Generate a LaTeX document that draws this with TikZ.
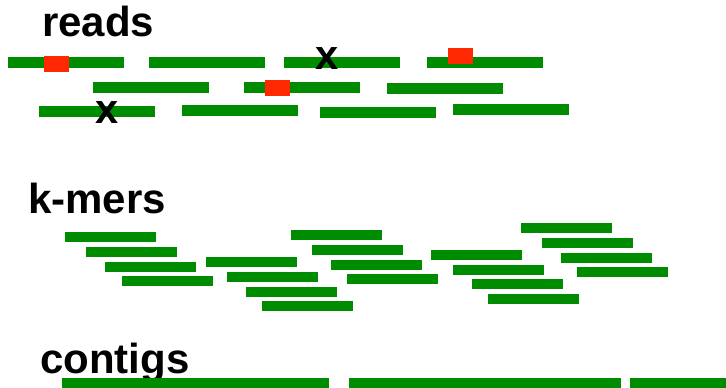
\documentclass[tikz,border=0pt]{standalone}
\usepackage{fontspec}
\setmainfont{Liberation Sans}
\definecolor{seqgreen}{RGB}{0,140,0}
\definecolor{errred}{RGB}{255,40,0}
\tikzset{
  seq/.style={fill=seqgreen},
  err/.style={fill=errred},
  heading/.style={font=\fontsize{42}{44}\selectfont\bfseries, anchor=base west, inner sep=0pt},
  mark x/.style={font=\fontsize{41.6}{44}\selectfont\bfseries, inner sep=0pt}
}
\begin{document}
\begin{tikzpicture}[x=1pt, y=-1pt]
\useasboundingbox (0,0) rectangle (726,388);
% reads
\node[heading] (reads) at (42,36) {reads};
\foreach \x/\y in {8/57,149/57,284/57,427/57, 93/82,244/82,387/83, 39/106,182/105,320/107,453/104} {
  \fill[seq] (\x,\y) rectangle ++(116,11);
}
\foreach \x/\y in {44/56,265/80,448/48} {
  \fill[err] (\x,\y) rectangle ++(25,16);
}
\node[mark x] (x1) at (327,58.5) {x};
\node[mark x] (x2) at (107.5,113) {x};
% k-mers
\node[heading] (kmers) at (28,213) {k-mers};
\foreach \x/\y in {65/232,86/247,105/262,122/276, 206/257,227/272,246/287,262/301,
                   291/230,312/245,331/260,347/274, 431/250,453/265,472/279,488/294,
                   521/223,542/238,561/253,577/267} {
  \fill[seq] (\x,\y) rectangle ++(91,10);
}
% contigs
\node[heading] (contigs) at (40,373) {contigs};
\foreach \a/\b in {62/329,349/621,630/726} {
  \fill[seq] (\a,378) rectangle (\b,388);
}
\end{tikzpicture}
\end{document}
